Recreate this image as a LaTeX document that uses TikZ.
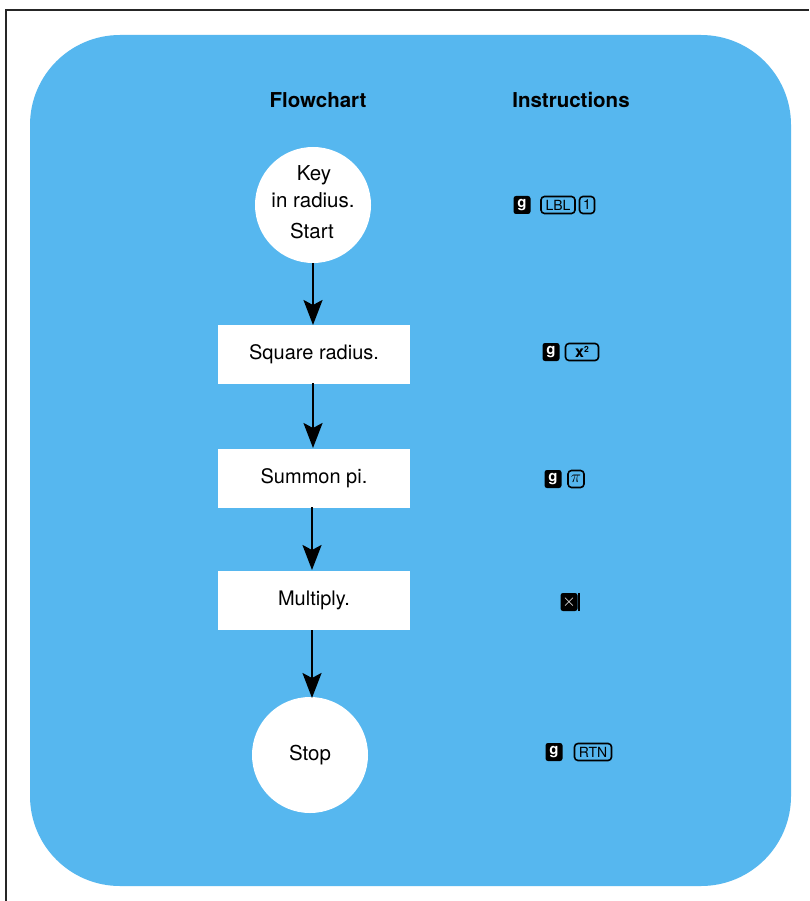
\documentclass[tikz,border=0pt]{standalone}
\usepackage{fontspec}
\setmainfont{TeX Gyre Heros}
\usetikzlibrary{arrows.meta}
\definecolor{panel}{RGB}{86,183,239}
\tikzset{
  circ/.style={circle,fill=white,minimum size=116pt,inner sep=0pt,align=center,font=\fontsize{20.5}{24}\selectfont},
  box/.style={rectangle,fill=white,minimum width=192pt,minimum height=59pt,inner sep=0pt,font=\fontsize{20}{24}\selectfont},
  head/.style={font=\bfseries\fontsize{20.5}{24}\selectfont},
  flow/.style={line width=2.4pt,-{Stealth[length=25pt,width=19pt,inset=5pt]}},
  bkey/.style={rectangle,rounded corners=2.5pt,fill=black,text=white,minimum width=17pt,minimum height=18pt,inner sep=0pt,font=\bfseries\fontsize{15}{15}\selectfont},
  okey/.style={rectangle,rounded corners=3.5pt,draw=black,line width=1.6pt,minimum height=17pt,inner xsep=2pt,inner ysep=0pt,font=\fontsize{14}{14}\selectfont}
}
\begin{document}
\begin{tikzpicture}[x=1pt,y=-1pt]
\useasboundingbox (0,0) rectangle (809,901);
\fill[white] (0,0) rectangle (809,901);
\draw[line width=1.5pt,black!85] (6,901) -- (6,10) -- (809,10);
\fill[panel,rounded corners=90pt] (30,35) rectangle (791,886);
\node[head] (hf) at (318,100) {Flowchart};
\node[head] (hi) at (571,100) {Instructions};
\node[circ] (c1) at (313,205) {};
\node[font=\fontsize{20.5}{24}\selectfont] (t1) at (314,175) {Key};
\node[font=\fontsize{20.5}{24}\selectfont] (t2) at (313,200) {in radius.};
\node[font=\fontsize{20.5}{24}\selectfont] (t3) at (312,231) {Start};
\node[box] (b1) at (314,354) {Square radius.};
\node[box] (b2) at (314,478) {Summon pi.};
\node[box] (b3) at (314,600) {Multiply.};
\node[circ] (c2) at (310,755) {Stop};
\draw[flow] (c1.south -| 313,0) -- (313,325);
\draw[flow] (313,383) -- (313,448);
\draw[flow] (312,507) -- (312,570);
\draw[flow] (312,630) -- (312,698);
% instructions
\node[bkey] (k1) at (522,205) {g};
\node[okey,minimum width=34pt] (k2) at (558,205) {LBL};
\node[okey,minimum width=15pt,inner xsep=0pt] (k3) at (587,205) {1};
\node[bkey] (k4) at (551,352) {g};
\node[okey,minimum width=33pt] (k5) at (582,352) {\fontsize{16}{16}\selectfont\textbf{x}\raisebox{5pt}{\fontsize{8.5}{8.5}\selectfont\textbf{2}}};
\node[bkey] (k6) at (553,479) {g};
\node[okey,minimum width=16pt,inner xsep=0pt] (k7) at (576,479) {\fontsize{16}{16}\selectfont$\pi$};
\node[bkey,font=\bfseries\fontsize{18}{18}\selectfont] (k8) at (569,602) {$\times$};
\draw[line width=1.8pt] (k8.north east) ++(1.5,0) -- ++(0,18);
\node[bkey] (k9) at (554,752) {g};
\node[okey,minimum width=37pt] (k10) at (593,752) {RTN};
\end{tikzpicture}
\end{document}
